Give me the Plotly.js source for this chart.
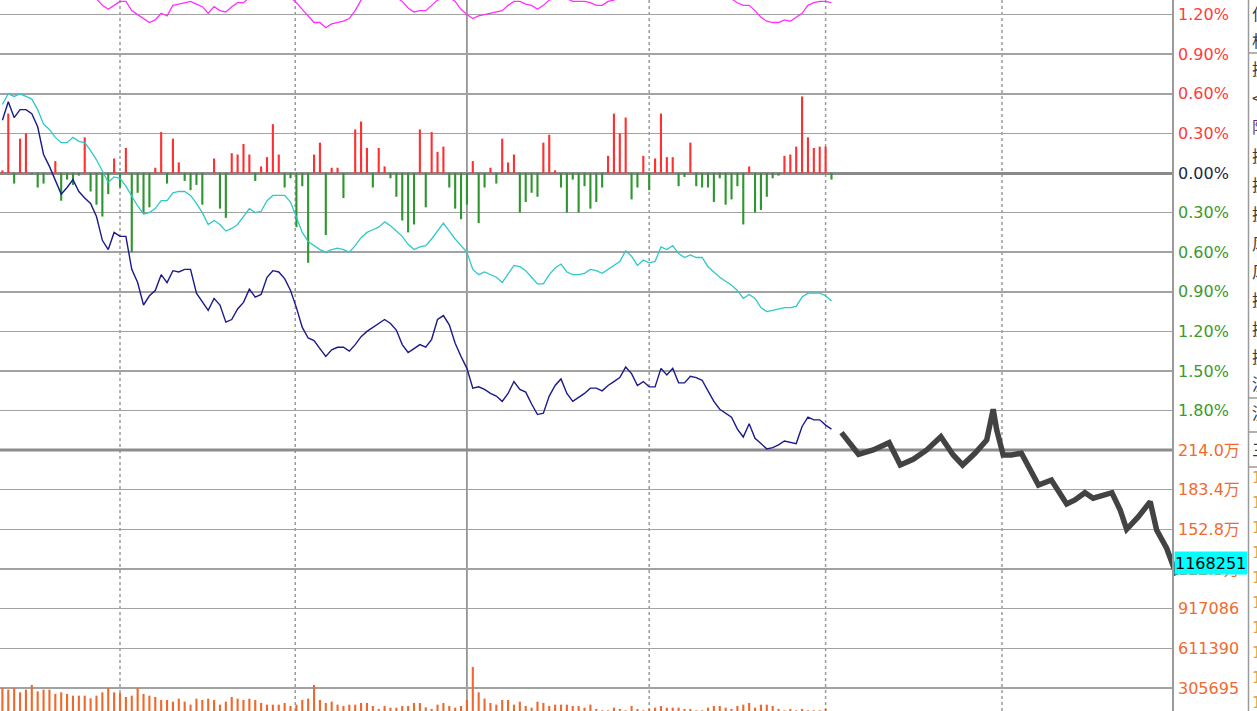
<!DOCTYPE html>
<html>
<head>
<meta charset="utf-8">
<script src="https://cdn.plot.ly/plotly-3.0.1.min.js"></script>
<style>html,body{margin:0;padding:0;background:#fff;overflow:hidden}#chart{width:1257px;height:711px}</style>
</head>
<body>
<div id="chart"></div>
<script>
// ---- data (per-minute, t = -20 .. 121) ----
const startMinute = -20;
const avgLine = [ // dark blue, %
  0.40, 0.54, 0.42, 0.48, 0.48, 0.45, 0.35, 0.14, 0.05, -0.06,
  -0.16, -0.11, -0.05, -0.14, -0.19, -0.23, -0.33, -0.51, -0.58, -0.45,
  -0.48, -0.48, -0.73, -0.83, -1.00, -0.93, -0.89, -0.77, -0.83, -0.74,
  -0.75, -0.73, -0.73, -0.91, -0.98, -1.04, -0.95, -1.00, -1.13, -1.11,
  -1.03, -0.98, -0.88, -0.94, -0.92, -0.79, -0.74, -0.75, -0.80, -0.89,
  -1.02, -1.17, -1.25, -1.27, -1.33, -1.39, -1.34, -1.32, -1.32, -1.35,
  -1.30, -1.24, -1.20, -1.17, -1.14, -1.11, -1.14, -1.19, -1.30, -1.36,
  -1.33, -1.30, -1.32, -1.26, -1.11, -1.08, -1.15, -1.29, -1.39, -1.48,
  -1.63, -1.62, -1.64, -1.67, -1.69, -1.73, -1.67, -1.58, -1.64, -1.66,
  -1.75, -1.83, -1.82, -1.69, -1.61, -1.56, -1.67, -1.73, -1.70, -1.67,
  -1.63, -1.63, -1.65, -1.61, -1.58, -1.55, -1.47, -1.52, -1.61, -1.58,
  -1.62, -1.62, -1.48, -1.53, -1.48, -1.59, -1.59, -1.54, -1.55, -1.57,
  -1.65, -1.73, -1.79, -1.82, -1.85, -1.94, -2.00, -1.90, -2.01, -2.05,
  -2.09, -2.08, -2.06, -2.03, -2.04, -2.05, -1.92, -1.85, -1.87, -1.87,
  -1.91, -1.94
];
const cyanLine = [
  0.52, 0.60, 0.58, 0.60, 0.58, 0.56, 0.48, 0.37, 0.33, 0.27,
  0.23, 0.23, 0.27, 0.24, 0.23, 0.17, 0.10, 0.01, -0.07, -0.03,
  -0.04, -0.10, -0.18, -0.25, -0.31, -0.30, -0.27, -0.21, -0.21, -0.15,
  -0.14, -0.14, -0.17, -0.23, -0.30, -0.39, -0.36, -0.39, -0.44, -0.42,
  -0.39, -0.33, -0.27, -0.30, -0.29, -0.21, -0.17, -0.17, -0.17, -0.22,
  -0.34, -0.45, -0.52, -0.55, -0.58, -0.60, -0.58, -0.57, -0.58, -0.60,
  -0.55, -0.49, -0.45, -0.43, -0.41, -0.37, -0.40, -0.44, -0.48, -0.54,
  -0.58, -0.56, -0.55, -0.50, -0.44, -0.38, -0.44, -0.50, -0.55, -0.60,
  -0.73, -0.77, -0.75, -0.77, -0.79, -0.83, -0.76, -0.70, -0.71, -0.74,
  -0.79, -0.84, -0.84, -0.77, -0.72, -0.69, -0.75, -0.77, -0.77, -0.76,
  -0.73, -0.74, -0.76, -0.73, -0.70, -0.67, -0.59, -0.63, -0.70, -0.66,
  -0.68, -0.67, -0.56, -0.58, -0.55, -0.61, -0.64, -0.62, -0.64, -0.64,
  -0.71, -0.75, -0.79, -0.82, -0.85, -0.89, -0.95, -0.92, -0.95, -1.02,
  -1.05, -1.04, -1.03, -1.02, -1.02, -1.01, -0.94, -0.91, -0.91, -0.91,
  -0.93, -0.97
];
const magentaLine = [
  1.45, 1.48, 1.52, 1.50, 1.47, 1.44, 1.42, 1.40, 1.41, 1.43,
  1.45, 1.42, 1.39, 1.37, 1.36, 1.34, 1.32, 1.27, 1.24, 1.27,
  1.30, 1.30, 1.23, 1.20, 1.17, 1.14, 1.16, 1.21, 1.19, 1.27,
  1.28, 1.29, 1.30, 1.28, 1.26, 1.21, 1.26, 1.23, 1.22, 1.26,
  1.29, 1.29, 1.33, 1.36, 1.39, 1.41, 1.42, 1.40, 1.37, 1.33,
  1.29, 1.24, 1.19, 1.14, 1.14, 1.10, 1.13, 1.14, 1.15, 1.17,
  1.23, 1.31, 1.34, 1.37, 1.39, 1.38, 1.36, 1.33, 1.30, 1.25,
  1.22, 1.23, 1.23, 1.27, 1.31, 1.33, 1.33, 1.30, 1.24, 1.20,
  1.17, 1.19, 1.20, 1.21, 1.22, 1.23, 1.27, 1.30, 1.30, 1.28,
  1.27, 1.24, 1.27, 1.31, 1.33, 1.34, 1.32, 1.30, 1.30, 1.30,
  1.29, 1.27, 1.27, 1.30, 1.31, 1.34, 1.38, 1.42, 1.45, 1.47,
  1.48, 1.50, 1.49, 1.47, 1.46, 1.48, 1.47, 1.44, 1.42, 1.39,
  1.36, 1.34, 1.33, 1.33, 1.32, 1.29, 1.27, 1.27, 1.23, 1.18,
  1.15, 1.14, 1.14, 1.16, 1.15, 1.18, 1.21, 1.27, 1.29, 1.30,
  1.30, 1.29
];
const diffBars = [
  0.02, 0.45, -0.08, 0.26, 0.30, -0.01, -0.11, -0.08, 0, 0.09,
  -0.21, -0.05, -0.09, -0.02, 0.27, -0.14, -0.24, -0.33, -0.16, 0.11,
  -0.11, 0.19, -0.60, -0.15, -0.30, -0.26, 0.04, 0.31, -0.08, 0.26,
  0.08, -0.06, -0.13, -0.09, -0.24, 0, 0.11, -0.27, -0.34, 0.15,
  0.14, 0.22, 0.14, -0.06, 0.05, 0.12, 0.37, 0.14, -0.11, -0.04,
  -0.41, -0.10, -0.68, 0.14, 0.23, -0.47, 0.04, 0.04, -0.19, 0,
  0.33, 0.39, 0.19, -0.11, 0.19, 0.05, -0.04, -0.18, -0.36, -0.45,
  -0.39, 0.33, -0.26, 0.31, 0.16, 0.20, -0.11, -0.27, -0.35, -0.24,
  0.09, -0.38, -0.11, 0.04, -0.08, 0.26, 0.08, 0.14, -0.30, -0.22,
  -0.15, -0.18, 0.23, 0.29, 0.02, -0.11, -0.30, -0.05, -0.30, -0.10,
  -0.27, -0.22, -0.11, 0.13, 0.45, 0.30, 0.42, -0.20, -0.11, 0.13,
  -0.13, 0.11, 0.45, 0.12, 0.12, -0.10, -0.03, 0.23, -0.10, -0.11,
  -0.11, -0.22, -0.04, -0.24, -0.20, -0.10, -0.39, 0.05, -0.30, -0.28,
  -0.18, -0.04, -0.02, 0.13, 0.14, 0.20, 0.58, 0.27, 0.19, 0.20,
  0.20, -0.05
];
const volume = [
  306500, 293400, 306500, 272500, 293400, 329600, 280200, 293400, 293400, 260200,
  272500, 260200, 247000, 247000, 247000, 226200, 247000, 272500, 306500, 272500,
  267900, 237000, 247000, 306500, 260200, 247000, 237000, 213800, 213800, 200700,
  223900, 200700, 177600, 223900, 213800, 223900, 213800, 177600, 200700, 237000,
  223900, 213800, 223900, 213800, 190700, 177600, 177600, 177600, 190700, 167500,
  177600, 213800, 223900, 329600, 213800, 190700, 200700, 177600, 167500, 177600,
  177600, 190700, 190700, 167500, 144400, 167500, 154400, 154400, 167500, 167500,
  190700, 190700, 156700, 144400, 177600, 190700, 167500, 154400, 167500, 213800,
  468600, 272500, 223900, 190700, 177600, 213800, 213800, 177600, 200700, 167500,
  154400, 200700, 190700, 167500, 177600, 177600, 177600, 167500, 167500, 154400,
  177600, 144400, 133600, 133600, 154400, 144400, 133600, 167500, 144400, 133600,
  144400, 154400, 167500, 154400, 154400, 154400, 144400, 144400, 133600, 133600,
  154400, 167500, 167500, 154400, 144400, 167500, 177600, 190700, 154400, 177600,
  177600, 167500, 144400, 133600, 144400, 133600, 144400, 133600, 133600, 133600,
  144400, 0
];
// hand-drawn sketch: minute positions and % values
const sketchMinute = [122.7, 125.6, 128.1, 130.8, 132.7, 134.9, 137.2, 139.6, 141.7, 143.3,
  145.4, 147.4, 148.5, 149.1, 150.2, 151.6, 153.3, 154.8, 156.2, 158.4, 159.6, 161.0,
  162.4, 164.1, 165.5, 167.2, 168.7, 170.1, 171.2, 173.2, 175.2, 176.3, 178.0, 179.7];
const sketchValue = [-1.967, -2.131, -2.098, -2.043, -2.212, -2.169, -2.098, -1.998, -2.136, -2.212,
  -2.123, -2.023, -1.790, -1.947, -2.136, -2.136, -2.123, -2.237, -2.364, -2.326, -2.402, -2.508,
  -2.477, -2.422, -2.464, -2.439, -2.422, -2.553, -2.699, -2.604, -2.490, -2.705, -2.843, -3.045];

const priceTicks = [1.2, 0.9, 0.6, 0.3, 0, -0.3, -0.6, -0.9, -1.2, -1.5, -1.8];
const priceLabels = ['1.20%', '0.90%', '0.60%', '0.30%', '0.00%', '0.30%', '0.60%', '0.90%', '1.20%', '1.50%', '1.80%'];
const volTicks = [305695, 611390, 917086, 1222780, 1528475, 1834170, 2139865];
const volLabels = ['305695', '611390', '917086', '122.3万', '152.8万', '183.4万', '214.0万'];
const cursorLabel = '1168251';
const sideGlyphs = ['仁', '相', '换', '<', '阳', '换', '换', '换', '风', '风', '换', '换', '换', '流', '流', '三'];
const sideNumbers = ['1', '1', '1', '1', '1', '1', '1', '1', '1', '1'];
const sessionLines = [0, 29.8, 90, 120, 150];
const middayLine = 59.0;

// ---- geometry ----
const W = 1257, H = 711;
const plotRight = 1173 / W;
const splitY = 1 - 450 / H;
const tMin = -20.408, tMaxPlot = 179.082, tMaxFull = 193.367;
const pTop = 1.3106, pBottom = -2.0985, pFullBottom = -4.0758;
const FONT = '"DejaVu Sans", "Noto Sans CJK SC", sans-serif';
const CJK = '"Noto Sans CJK SC", sans-serif';

const minutes = avgLine.map((_, i) => startMinute + i);
const labelColor = v => v > 0 ? '#ff3b3b' : (v === 0 ? '#1c2848' : '#3b9a2b');

const traces = [
  {type: 'bar', x: minutes, y: diffBars, xaxis: 'x', yaxis: 'y', width: 0.36,
   marker: {color: diffBars.map(v => v >= 0 ? '#ff3030' : '#2e962e'), line: {width: 0}}},
  {type: 'bar', x: minutes, y: volume, xaxis: 'x', yaxis: 'y2', width: 0.36,
   marker: {color: '#f0692c', line: {width: 0}}},
  {type: 'scatter', mode: 'lines', x: minutes, y: magentaLine, xaxis: 'x', yaxis: 'y',
   line: {color: '#ff30ff', width: 1.3}},
  {type: 'scatter', mode: 'lines', x: minutes, y: cyanLine, xaxis: 'x', yaxis: 'y',
   line: {color: '#30c8c8', width: 1.3}},
  {type: 'scatter', mode: 'lines', x: minutes, y: avgLine, xaxis: 'x', yaxis: 'y',
   line: {color: '#1a1a8a', width: 1.4}},
  {type: 'scatter', mode: 'lines', x: sketchMinute, y: sketchValue, xaxis: 'x3', yaxis: 'y3',
   line: {color: '#434343', width: 5.5}}
];

const shapes = [];
sessionLines.forEach(t => shapes.push({type: 'line', xref: 'x', yref: 'paper', x0: t, x1: t, y0: 0, y1: 1,
  line: {color: '#9a9a9a', width: 1.5, dash: 'dot'}, layer: 'below'}));
shapes.push({type: 'line', xref: 'x', yref: 'paper', x0: middayLine, x1: middayLine, y0: 0, y1: 1,
  line: {color: '#808080', width: 1.5}, layer: 'below'});
shapes.push({type: 'line', xref: 'paper', yref: 'paper', x0: 0, x1: plotRight, y0: splitY, y1: splitY,
  line: {color: '#8c8c8c', width: 3}, layer: 'below'});
shapes.push({type: 'line', xref: 'paper', yref: 'paper', x0: plotRight, x1: plotRight, y0: 0, y1: 1,
  line: {color: '#9a9a9a', width: 2}});
shapes.push({type: 'line', xref: 'paper', yref: 'paper', x0: 1248.5 / W, x1: 1248.5 / W, y0: 0, y1: 1,
  line: {color: '#9a9a9a', width: 1.5}});
[53, 398, 432, 467].forEach(py => shapes.push({type: 'line', xref: 'paper', yref: 'paper',
  x0: 1248.5 / W, x1: 1, y0: 1 - py / H, y1: 1 - py / H, line: {color: '#9a9a9a', width: 1.5}}));

const annotations = [];
annotations.push({xref: 'paper', yref: 'paper', x: 1174 / W, y: 1 - 563 / H, xanchor: 'left', yanchor: 'middle',
  text: cursorLabel, showarrow: false, bgcolor: '#00ffff', width: 72, height: 22, borderpad: 0, align: 'left',
  font: {family: FONT, size: 16, color: '#000'}});
const glyphRows = [13, 40, 68, 97, 126, 155, 184, 213, 243, 271, 299, 328, 356, 383, 412, 449];
sideGlyphs.forEach((g, i) => annotations.push({xref: 'paper', yref: 'paper', x: 1250 / W, y: 1 - glyphRows[i] / H,
  xanchor: 'left', yanchor: 'middle', showarrow: false, text: g,
  font: {family: CJK, size: 16, color: g === '阳' ? '#6a2a7a' : '#3a3a3a'}}));
sideNumbers.forEach((g, i) => annotations.push({xref: 'paper', yref: 'paper', x: 1250 / W, y: 1 - (478 + 25 * i) / H,
  xanchor: 'left', yanchor: 'middle', showarrow: false, text: g,
  font: {family: FONT, size: 15, color: '#e8a040'}}));

const layout = {
  width: W, height: H, margin: {l: 0, r: 0, t: 0, b: 0},
  paper_bgcolor: '#ffffff', plot_bgcolor: 'rgba(0,0,0,0)', showlegend: false, hovermode: false,
  font: {family: FONT},
  xaxis: {domain: [0, plotRight], range: [tMin, tMaxPlot], anchor: 'y2', showgrid: false, zeroline: false,
    showticklabels: false, ticks: '', showline: false, fixedrange: true},
  yaxis: {domain: [splitY, 1], range: [pBottom, pTop], anchor: 'x', side: 'right',
    tickmode: 'array', tickvals: priceTicks,
    ticktext: priceLabels.map((s, i) => '<span style="color:' + labelColor(priceTicks[i]) + '">' + s + '</span>'),
    tickfont: {family: FONT, size: 16}, ticks: '', ticklabelstandoff: 4,
    showgrid: true, gridcolor: '#a2a2a2', gridwidth: 1.5,
    zeroline: true, zerolinecolor: '#8a8a8a', zerolinewidth: 3, showline: false, fixedrange: true},
  yaxis2: {domain: [0, splitY], range: [128700, 2140300], anchor: 'x', side: 'right',
    tickmode: 'array', tickvals: volTicks, ticktext: volLabels,
    tickfont: {family: FONT, size: 16, color: '#f26a2e'}, ticks: '', ticklabelstandoff: 4,
    showgrid: true, gridcolor: '#a2a2a2', gridwidth: 1.5, zeroline: false, showline: false, fixedrange: true},
  xaxis3: {domain: [0, 1], range: [tMin, tMaxFull], anchor: 'y3', visible: false, fixedrange: true},
  yaxis3: {domain: [0, 1], range: [pFullBottom, pTop], anchor: 'x3', visible: false, fixedrange: true},
  shapes: shapes, annotations: annotations
};

Plotly.newPlot('chart', traces, layout, {displayModeBar: false, staticPlot: true});
</script>
</body>
</html>
